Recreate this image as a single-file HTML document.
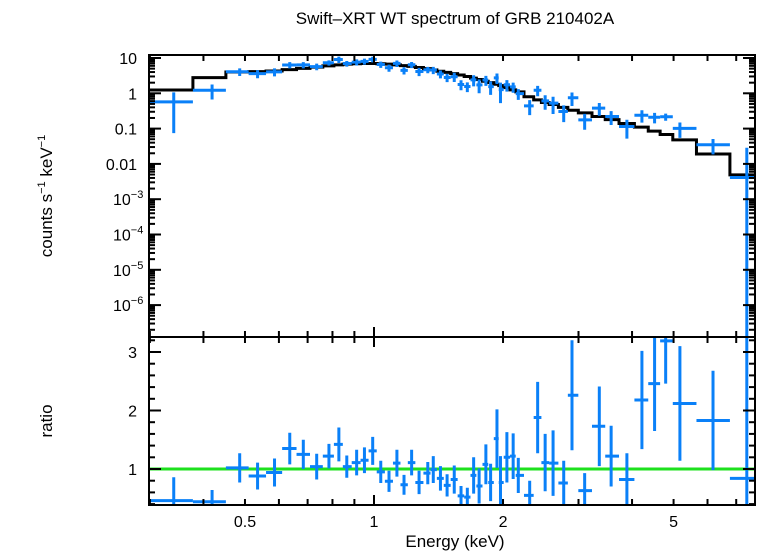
<!DOCTYPE html>
<html><head><meta charset="utf-8"><style>
html,body{margin:0;padding:0;background:#fff;width:758px;height:556px;overflow:hidden;}
svg{display:block;}
svg text{font-family:"Liberation Sans",sans-serif;fill:#000;}
</style></head><body>
<svg id="chart" width="758" height="556" viewBox="0 0 758 556" xmlns="http://www.w3.org/2000/svg">
<text x="455" y="24" font-size="17" text-anchor="middle">Swift–XRT WT spectrum of GRB 210402A</text>
<text x="455" y="547" font-size="17" text-anchor="middle">Energy (keV)</text>
<text transform="translate(52,196) rotate(-90)" font-size="17" text-anchor="middle">counts s<tspan font-size="11" dy="-7">−1</tspan><tspan dy="7"> keV</tspan><tspan font-size="11" dy="-7">−1</tspan></text>
<text transform="translate(52,421) rotate(-90)" font-size="17" text-anchor="middle">ratio</text>
<g id="topPanel"></g>
<g id="botPanel"></g>
</svg>
<script>
const energies=[0.341,0.419,0.486,0.535,0.586,0.636,0.684,0.735,0.785,0.828,0.864,0.911,0.950,0.993,1.037,1.084,1.131,1.175,1.224,1.274,1.335,1.375,1.429,1.481,1.539,1.596,1.651,1.708,1.759,1.824,1.871,1.936,1.973,2.042,2.112,2.171,2.308,2.409,2.508,2.617,2.771,2.897,3.101,3.355,3.575,3.891,4.218,4.515,4.792,5.173,6.18,7.41];
const ratios=[0.46,0.44,1.02,0.88,0.94,1.35,1.25,1.04,1.22,1.42,1.04,1.11,1.15,1.31,0.95,0.79,1.10,0.73,1.11,0.77,0.93,0.99,0.84,0.72,0.82,0.54,0.52,0.89,0.71,1.08,0.77,1.52,0.77,1.20,1.22,0.89,0.55,1.88,1.11,1.10,0.76,2.26,0.63,1.73,1.22,0.82,2.18,2.46,3.19,2.12,1.83,0.84];
const ratioErrs=[0.40,0.20,0.25,0.23,0.24,0.27,0.25,0.22,0.21,0.29,0.19,0.22,0.22,0.24,0.19,0.18,0.23,0.17,0.22,0.20,0.19,0.23,0.21,0.19,0.24,0.17,0.16,0.31,0.30,0.34,0.32,0.50,0.45,0.43,0.39,0.30,0.25,0.61,0.49,0.56,0.38,0.94,0.30,0.68,0.52,0.45,0.84,0.81,0.73,0.98,0.85,5.0];
const modelVals=[1.24,2.77,4.0,4.1,4.3,4.7,5.1,5.5,6.0,6.4,6.7,6.9,7.0,7.0,6.9,6.7,6.4,6.1,5.8,5.4,5.0,4.6,4.2,3.9,3.6,3.3,3.0,2.7,2.45,2.2,2.0,1.8,1.65,1.45,1.25,1.1,0.8,0.65,0.55,0.48,0.40,0.33,0.28,0.22,0.18,0.14,0.11,0.085,0.068,0.048,0.019,0.0049];
const xTickLabels=["0.5","1","2","5"];
const xTickVals=[0.5,1,2,5];
const yTopTickVals=[10,1,0.1,0.01,1e-3,1e-4,1e-5,1e-6];
const yTopTickLabels=["10","1","0.1","0.01","10|−3","10|−4","10|−5","10|−6"];
const yBotTickVals=[1,2,3];
const eMin=0.30,eMax=7.75;

const NS="http://www.w3.org/2000/svg";
const L=149,R=755,T1=55,B1=337,T2=337,B2=505;
const xs=e=>374+428.6*Math.log10(e);
const yTop=v=>58+35.3*(1-Math.log10(v));
const yBot=r=>469-58.5*(r-1);
const BLUE="#0a80f8";
function mk(tag,attrs,parent){const el=document.createElementNS(NS,tag);for(const k in attrs)el.setAttribute(k,attrs[k]);parent.appendChild(el);return el;}
const gTop=document.getElementById('topPanel'),gBot=document.getElementById('botPanel');

const edges=[eMin];
for(let i=0;i<energies.length-1;i++)edges.push(Math.sqrt(energies[i]*energies[i+1]));
edges.push(eMax);

const defs=mk('defs',{},document.getElementById('chart'));
const c1=mk('clipPath',{id:'c1'},defs);mk('rect',{x:L,y:T1,width:R-L,height:B1-T1},c1);
const c2=mk('clipPath',{id:'c2'},defs);mk('rect',{x:L,y:T2,width:R-L,height:B2-T2},c2);
const g1=mk('g',{'clip-path':'url(#c1)'},gTop);
const g2=mk('g',{'clip-path':'url(#c2)'},gBot);

let d='';
for(let i=0;i<energies.length;i++){
  const y=yTop(modelVals[i]);
  d+=(i===0?'M':'L')+xs(edges[i])+','+y+' L'+xs(edges[i+1])+','+y+' ';
}
const model=mk('path',{d:d,fill:'none',stroke:'#000','stroke-width':3},g1);



const unity=mk('line',{x1:L,x2:R,y1:yBot(1),y2:yBot(1),stroke:'#1ee01e','stroke-width':3},g2);



for(let i=0;i<energies.length;i++){
  const x0=xs(edges[i]),x1=xs(edges[i+1]),xc=xs(energies[i]);
  const cnt=modelVals[i]*ratios[i],ce=modelVals[i]*ratioErrs[i];
  const yc=yTop(cnt),yh=yTop(cnt+ce),yl=(cnt-ce>0)?Math.min(yTop(cnt-ce),B1):B1;
  const p=mk('path',{d:`M${x0},${yc}H${x1}M${xc},${yh}V${yl}`,stroke:BLUE,'stroke-width':3,fill:'none'},g1);
  
  
  const ry=yBot(ratios[i]);
  const rl=Math.min(yBot(ratios[i]-ratioErrs[i]),B2);
  const q=mk('path',{d:`M${x0},${ry}H${x1}M${xc},${Math.max(yBot(ratios[i]+ratioErrs[i]),T2)}V${rl}`,stroke:BLUE,'stroke-width':3,fill:'none'},g2);
  
  
}

[[T1,B1,gTop],[T2,B2,gBot]].forEach(([t,b,p])=>{
  const f=mk('rect',{x:L,y:t,width:R-L,height:b-t,fill:'none',stroke:'#000','stroke-width':2},p);
  
  
});

const xt=[];
[0.1,1].forEach(dec=>{for(let k=1;k<10;k++){const e=k*dec;if(e>=eMin&&e<=eMax)xt.push(e);}});
xt.forEach(e=>{
  const x=xs(e),major=Math.abs(e-1)<1e-9;const len=major?10:6;
  mk('line',{x1:x,x2:x,y1:T1,y2:T1+len,stroke:'#000','stroke-width':2},gTop);
  mk('line',{x1:x,x2:x,y1:B1,y2:B1-len,stroke:'#000','stroke-width':2},gTop);
  mk('line',{x1:x,x2:x,y1:T2,y2:T2+len,stroke:'#000','stroke-width':2},gBot);
  mk('line',{x1:x,x2:x,y1:B2,y2:B2-len,stroke:'#000','stroke-width':2},gBot);
});
xTickVals.forEach((e,i)=>{
  const t=mk('text',{x:xs(e),y:527,'font-size':16,'text-anchor':'middle'},gBot);
  t.textContent=xTickLabels[i];
  
  
});

for(let p=-7;p<=1;p++)for(let k=1;k<10;k++){
  const v=k*Math.pow(10,p);const y=yTop(v);if(y<T1||y>B1)continue;
  const len=k===1?12:6;
  mk('line',{x1:L,x2:L+len,y1:y,y2:y,stroke:'#000','stroke-width':2},gTop);
  mk('line',{x1:R,x2:R-len,y1:y,y2:y,stroke:'#000','stroke-width':2},gTop);
}
yTopTickVals.forEach((v,i)=>{
  const parts=yTopTickLabels[i].split('|');
  const t=mk('text',{x:137,y:yTop(v)+6,'font-size':16,'text-anchor':'end'},gTop);
  
  
  if(parts.length===1)t.textContent=parts[0];
  else{
    const a=document.createElementNS(NS,'tspan');a.textContent=parts[0];t.appendChild(a);
    const b=document.createElementNS(NS,'tspan');b.setAttribute('font-size','11');b.setAttribute('dy','-7');b.textContent=parts[1];t.appendChild(b);
    t.setAttribute('text-anchor','start');t.setAttribute('x',113);
  }
});

for(let j=2;j<=16;j++){
  const r=j*0.2;const y=yBot(r);if(y<T2||y>B2)continue;
  const major=(j%5===0);const len=major?12:6;
  mk('line',{x1:L,x2:L+len,y1:y,y2:y,stroke:'#000','stroke-width':2},gBot);
  mk('line',{x1:R,x2:R-len,y1:y,y2:y,stroke:'#000','stroke-width':2},gBot);
}
yBotTickVals.forEach(v=>{
  const t=mk('text',{x:137,y:yBot(v)+6,'font-size':16,'text-anchor':'end'},gBot);
  t.textContent=String(v);
  
  
});
</script>
</body></html>
